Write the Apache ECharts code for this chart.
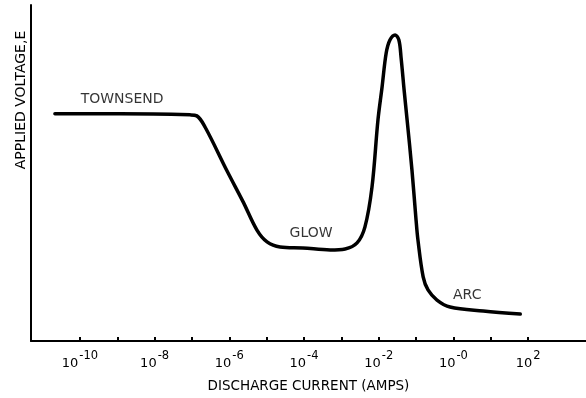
<!DOCTYPE html>
<html>
<head>
<meta charset="utf-8">
<script src="https://cdn.jsdelivr.net/npm/echarts@6/dist/echarts.min.js"></script>
<style>
  html, body { margin: 0; padding: 0; background: #fff; }
  #chart { width: 586px; height: 398px; }
</style>
</head>
<body>
<div id="chart"></div>
<script>
// log10 of discharge current (A) and applied voltage (arbitrary units, 0-100)
var logCurrent = [-10.67, -8.93, -7.05, -6.87, -6.65, -6.06, -5.63, -5.26, -4.99,
    -4.64, -4.03, -3.30, -2.90, -2.58, -2.37, -2.18, -2.02, -1.91,
    -1.80, -1.70, -1.56, -1.46, -1.40, -1.32, -1.24, -1.11, -1.00, -0.95,
    -0.81, -0.68, -0.44, -0.09, 0.80, 1.79];
var voltage = [67.6, 67.6, 67.3, 67.0, 63.7, 50.6, 41.4, 33.0, 29.5,
    28.0, 27.7, 27.1, 27.4, 29.2, 33.9, 45.8, 65.8, 75.6,
    85.7, 89.6, 91.1, 89.6, 84.2, 74.7, 65.8, 50.9, 36.0, 30.1,
    19.1, 15.2, 12.2, 10.1, 8.9, 8.0];

// region labels
var regionNames = ['TOWNSEND', 'GLOW', 'ARC'];
var regionX = [-8.87, -3.81, 0.37];
var regionY = [72.0, 31.9, 13.7];

// tick positions (decades) and labelled exponents
var tickExps = [-10, -9, -8, -7, -6, -5, -4, -3, -2, -1, 0, 1, 2];
var labelExps = [-10, -8, -6, -4, -2, 0, 2];
var labelText = ['-10', '-8', '-6', '-4', '-2', '-0', '2'];

var FONT = 'DejaVu Sans';

var chart = echarts.init(document.getElementById('chart'));

var curve = logCurrent.map(function (x, i) { return [x, voltage[i]]; });
var regions = regionNames.map(function (n, i) { return [regionX[i], regionY[i], n]; });

chart.setOption({
    backgroundColor: '#fff',
    animation: false,
    grid: { left: 31, right: 0, top: 5, bottom: 57 },
    xAxis: {
        type: 'value',
        min: -11.31,
        max: 3.55,
        name: 'DISCHARGE CURRENT (AMPS)',
        nameLocation: 'middle',
        nameGap: 38,
        nameTextStyle: { fontFamily: FONT, fontSize: 13.5, color: '#000' },
        axisLine: { onZero: false, lineStyle: { color: '#000', width: 2 } },
        axisTick: {
            inside: true, length: 4,
            customValues: tickExps,
            lineStyle: { color: '#000', width: 2 }
        },
        splitLine: { show: false },
        axisLabel: {
            customValues: labelExps,
            margin: 8,
            formatter: function (v) {
                var i = labelExps.indexOf(Math.round(v));
                return '{b|10}{s|' + labelText[i] + '}';
            },
            rich: {
                b: { fontFamily: FONT, fontSize: 13, color: '#000', padding: [8, 0, 0, 0] },
                s: { fontFamily: FONT, fontSize: 11.5, color: '#000', padding: [0, 0, 6, 1] }
            }
        }
    },
    yAxis: {
        type: 'value',
        min: 0,
        max: 100,
        axisLine: { show: true, onZero: false, lineStyle: { color: '#000', width: 2 } },
        axisTick: { show: false },
        axisLabel: { show: false },
        splitLine: { show: false }
    },
    graphic: [{
        type: 'text',
        x: 21,
        y: 100,
        rotation: Math.PI / 2,
        style: {
            text: 'APPLIED VOLTAGE,E',
            fontFamily: FONT,
            fontSize: 14,
            fill: '#000',
            align: 'center',
            verticalAlign: 'middle'
        }
    }],
    series: [{
        type: 'line',
        data: curve,
        smooth: 0.35,
        showSymbol: false,
        lineStyle: { color: '#000', width: 3.5, cap: 'round', join: 'round' }
    }, {
        type: 'scatter',
        data: regions,
        symbolSize: 0,
        silent: true,
        label: {
            show: true,
            position: 'inside',
            formatter: function (p) { return p.data[2]; },
            fontFamily: FONT,
            fontSize: 14,
            color: '#000'
        }
    }]
});
</script>
</body>
</html>
